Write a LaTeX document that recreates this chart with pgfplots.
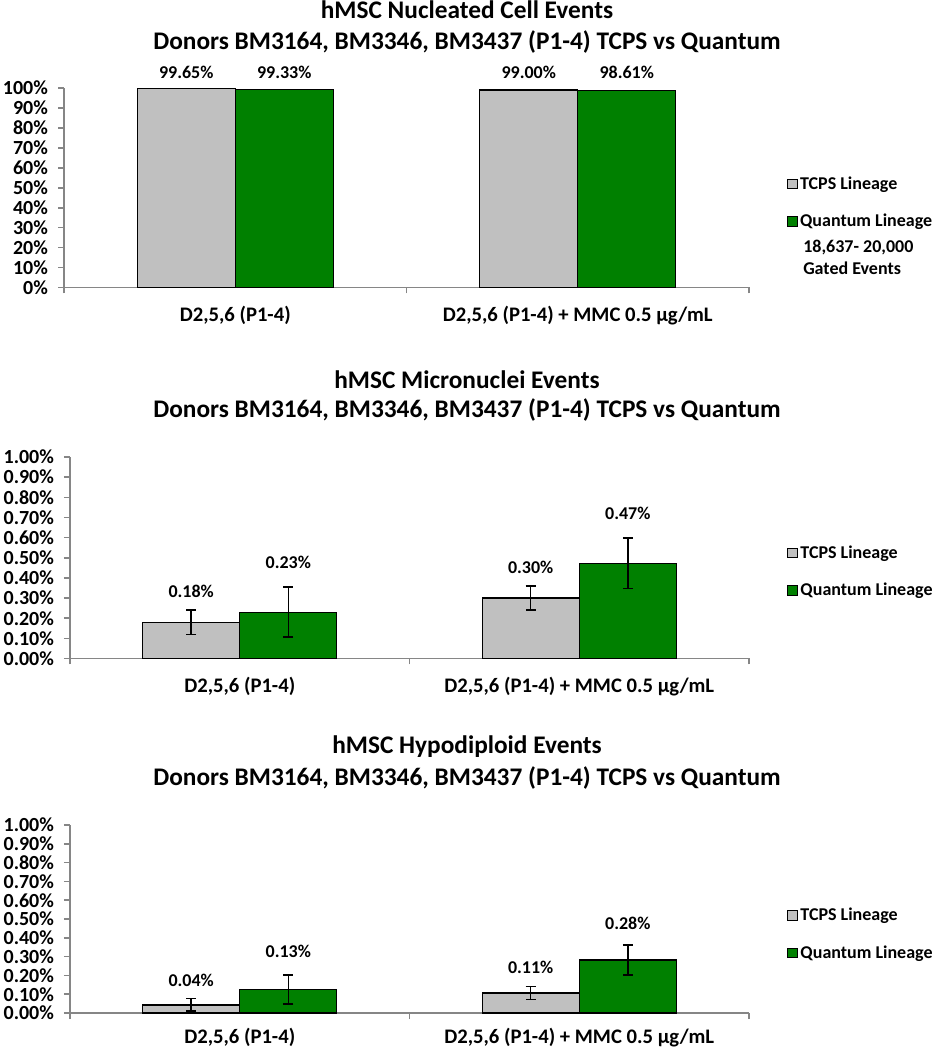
\documentclass[border=0pt]{standalone}
\usepackage{fontspec}
\setmainfont{Carlito}
\usepackage{pgfplots}
\pgfplotsset{compat=1.18}
\definecolor{tcps}{HTML}{C0C0C0}
\definecolor{quant}{HTML}{008000}
\definecolor{axgray}{HTML}{868686}

\pgfplotsset{
  panel/.style={
    scale only axis,
    axis lines*=left,
    axis line style={axgray, line width=1.2pt},
    every tick/.style={axgray, line width=1.2pt},
    major tick length=4.5pt,
    tick align=outside,
    xmin=-0.5, xmax=1.5, ymin=0,
    xtick={-0.5,0.5,1.5},
    x tick label as interval,
    xticklabels={{D2,5,6 (P1-4)},{D2,5,6 (P1-4) + MMC 0.5 µg/mL}},
    xticklabel style={font=\fontsize{15.5}{18}\selectfont\bfseries, yshift=-6pt},
    yticklabel style={font=\fontsize{15}{17}\selectfont\bfseries, xshift=-4pt},
    clip=false,
    legend cell align=left,
    legend style={draw=none, fill=none, anchor=north west,
      font=\fontsize{13.5}{16}\selectfont\bfseries, row sep=13.2pt,
      inner sep=0pt},
  },
  mybar/.style={ybar, bar width=0.286, bar shift=0pt, draw=black, line width=0.9pt,
    legend image code/.code={\draw[##1, line width=0.7pt] (0pt,-3.6pt) rectangle (7.2pt,3.6pt);}},
  myerr/.style={error bars/.cd, y dir=both, y explicit,
    error bar style={black, line width=1.1pt},
    error mark options={black, rotate=90, mark size=3.75pt, line width=1.1pt}},
}

\newcommand{\vl}{\fontsize{13.5}{16}\selectfont\bfseries}
\newcommand{\tl}{\fontsize{19}{22}\selectfont\bfseries}

\begin{document}
\begin{tikzpicture}
\useasboundingbox (0,0) rectangle (700.5pt,787.5pt);

% ---------- Panel 1 ----------
\begin{axis}[panel, at={(48pt,571.875pt)}, anchor=south west,
  width=513.75pt, height=149.6pt, ymax=100, ytick distance=10,
  yticklabel={\pgfmathprintnumber[assume math mode=true]{\tick}\%},
  legend style={at={(1.055,0.57)}}]
\addplot[mybar, fill=tcps] coordinates {(-0.143,99.65) (0.857,99.00)};
\addplot[mybar, fill=quant] coordinates {(0.143,99.33) (1.143,98.61)};
\legend{TCPS Lineage, Quantum Lineage}
\node[font=\vl] at (axis cs:-0.143,108) {99.65\%};
\node[font=\vl] at (axis cs:0.143,108) {99.33\%};
\node[font=\vl] at (axis cs:0.857,108) {99.00\%};
\node[font=\vl] at (axis cs:1.143,108) {98.61\%};
\end{axis}

% ---------- Panel 2 ----------
\begin{axis}[panel, at={(52.5pt,293.625pt)}, anchor=south west,
  width=509.25pt, height=151.1pt, ymax=1, ytick distance=0.1,
  yticklabel={\pgfmathprintnumber[fixed,fixed zerofill,precision=2,assume math mode=true]{\tick}\%},
  legend style={at={(1.056,0.575)}}]
\addplot[mybar, fill=tcps, myerr] coordinates {(-0.143,0.18) +- (0,0.06) (0.857,0.30) +- (0,0.059)};
\addplot[mybar, fill=quant, myerr] coordinates {(0.143,0.23) +- (0,0.124) (1.143,0.473) +- (0,0.125)};
\legend{TCPS Lineage, Quantum Lineage}
\node[font=\vl] at (axis cs:-0.143,0.331) {0.18\%};
\node[font=\vl] at (axis cs:0.143,0.478) {0.23\%};
\node[font=\vl] at (axis cs:0.857,0.45) {0.30\%};
\node[font=\vl] at (axis cs:1.143,0.72) {0.47\%};
\end{axis}

% ---------- Panel 3 ----------
\begin{axis}[panel, at={(52.5pt,27.75pt)}, anchor=south west,
  width=509.25pt, height=141pt, ymax=1, ytick distance=0.1,
  yticklabel={\pgfmathprintnumber[fixed,fixed zerofill,precision=2,assume math mode=true]{\tick}\%},
  xticklabel style={yshift=3pt},
  legend style={at={(1.056,0.574)}}]
\addplot[mybar, fill=tcps, myerr] coordinates {(-0.143,0.043) +- (0,0.033) (0.857,0.106) +- (0,0.034)};
\addplot[mybar, fill=quant, myerr] coordinates {(0.143,0.125) +- (0,0.077) (1.143,0.282) +- (0,0.08)};
\legend{TCPS Lineage, Quantum Lineage}
\node[font=\vl] at (axis cs:-0.143,0.176) {0.04\%};
\node[font=\vl] at (axis cs:0.143,0.326) {0.13\%};
\node[font=\vl] at (axis cs:0.857,0.241) {0.11\%};
\node[font=\vl] at (axis cs:1.143,0.479) {0.28\%};
\end{axis}

% ---------- titles ----------
\node[font=\tl] at (350.25pt,780pt) {hMSC Nucleated Cell Events};
\node[font=\tl] at (350.25pt,756pt) {Donors BM3164, BM3346, BM3437 (P1-4) TCPS vs Quantum};
\node[font=\tl] at (350.25pt,502.5pt) {hMSC Micronuclei Events};
\node[font=\tl] at (350.25pt,480pt) {Donors BM3164, BM3346, BM3437 (P1-4) TCPS vs Quantum};
\node[font=\tl] at (350.25pt,227.25pt) {hMSC Hypodiploid Events};
\node[font=\tl] at (350.25pt,204pt) {Donors BM3164, BM3346, BM3437 (P1-4) TCPS vs Quantum};

% ---------- note ----------
\node[font=\vl, anchor=west, inner sep=0pt] at (602.25pt,601.5pt) {18,637- 20,000};
\node[font=\vl, anchor=west, inner sep=0pt] at (602.25pt,586.5pt) {Gated Events};
\end{tikzpicture}
\end{document}
